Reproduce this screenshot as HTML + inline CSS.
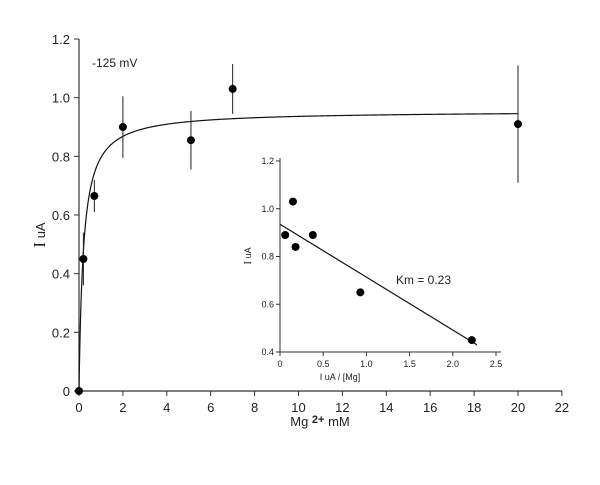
<!DOCTYPE html>
<html><head><meta charset="utf-8"><style>
body{margin:0;background:#fff}
svg text{font-family:"Liberation Sans",sans-serif;fill:#222}
</style></head><body>
<svg width="600" height="480">
<g id="main"></g>
<g id="inset"></g>
</svg>
<script>
const mainX=[0,0.2,0.7,2,5.1,7,20];
const mainY=[0,0.45,0.665,0.9,0.855,1.03,0.91];
const mainErr=[0,0.09,0.055,0.105,0.1,0.085,0.2];
const fitVmax=0.955, fitKm=0.2;
const xTicks=[0,2,4,6,8,10,12,14,16,18,20,22];
const yTicks=[0,0.2,0.4,0.6,0.8,1.0,1.2];
const insX=[0.06,0.15,0.18,0.38,0.93,2.22];
const insY=[0.89,1.03,0.84,0.89,0.65,0.45];
const insLine=[[0,0.935],[2.28,0.43]];
const insXTicks=[0,0.5,1.0,1.5,2.0,2.5];
const insYTicks=[0.4,0.6,0.8,1.0,1.2];
const NS="http://www.w3.org/2000/svg";
function mk(p,t,a,txt){const e=document.createElementNS(NS,t);for(const k in a)e.setAttribute(k,a[k]);if(txt!==undefined)e.textContent=txt;p.appendChild(e);return e;}
const fx=v=>79+v*21.95, fy=v=>391-v*293.3;
const m=document.getElementById('main');
let e;
e=mk(m,'line',{x1:79,y1:39,x2:79,y2:391,stroke:'#333','stroke-width':1.2});


e=mk(m,'line',{x1:79,y1:391,x2:562,y2:391,stroke:'#333','stroke-width':1.2});


xTicks.forEach(t=>{const x=fx(t);mk(m,'line',{x1:x,y1:391,x2:x,y2:396,stroke:'#333'});
e=mk(m,'text',{x:x,y:412,'font-size':13,'text-anchor':'middle'},String(t));

});
yTicks.forEach(t=>{const y=fy(t);mk(m,'line',{x1:74,y1:y,x2:79,y2:y,stroke:'#333'});
e=mk(m,'text',{x:70,y:y+5,'font-size':13,'text-anchor':'end'},t===0?'0':t.toFixed(1));

});
let d='';for(let i=0;i<=400;i++){const x=20*Math.pow(i/400,2);d+=(i?'L':'M')+fx(x).toFixed(2)+','+fy(fitVmax*x/(fitKm+x)).toFixed(2);}
e=mk(m,'path',{d:d,fill:'none',stroke:'#111','stroke-width':1.2});


mainX.forEach((x,i)=>{if(mainErr[i]>0){e=mk(m,'line',{x1:fx(x),x2:fx(x),y1:fy(mainY[i]-mainErr[i]),y2:fy(mainY[i]+mainErr[i]),stroke:'#222','stroke-width':1});

}
e=mk(m,'circle',{cx:fx(x),cy:fy(mainY[i]),r:4,fill:'#000'});

});
e=mk(m,'text',{x:92,y:67,'font-size':12},'-125 mV');


e=mk(m,'text',{x:0,y:0,'font-size':13,transform:'translate(45,235) rotate(-90)','text-anchor':'middle'});
e.innerHTML='<tspan font-family="Liberation Serif" font-size="17">I</tspan> uA';


e=mk(m,'text',{x:320,y:426,'font-size':13,'text-anchor':'middle'});
e.innerHTML='Mg <tspan font-weight="bold" font-size="11" dy="-3">2+</tspan><tspan dy="3"> mM</tspan>';


const g=document.getElementById('inset');
const ix=v=>280+v*86.4, iy=v=>352-(v-0.4)*238.75;
mk(g,'line',{x1:280,y1:158,x2:280,y2:352,stroke:'#333'});
mk(g,'line',{x1:280,y1:352,x2:501,y2:352,stroke:'#333'});
insXTicks.forEach(t=>{const x=ix(t);mk(g,'line',{x1:x,y1:352,x2:x,y2:356,stroke:'#333'});
e=mk(g,'text',{x:x,y:367,'font-size':9,'text-anchor':'middle'},t===0?'0':t.toFixed(1));

});
insYTicks.forEach(t=>{const y=iy(t);mk(g,'line',{x1:276,y1:y,x2:280,y2:y,stroke:'#333'});
e=mk(g,'text',{x:274,y:y+3,'font-size':9,'text-anchor':'end'},t.toFixed(1));

});
e=mk(g,'line',{x1:ix(insLine[0][0]),y1:iy(insLine[0][1]),x2:ix(insLine[1][0]),y2:iy(insLine[1][1]),stroke:'#111','stroke-width':1.2});


insX.forEach((x,i)=>{e=mk(g,'circle',{cx:ix(x),cy:iy(insY[i]),r:4,fill:'#000'});

});
e=mk(g,'text',{x:396,y:284,'font-size':12},'Km = 0.23');


e=mk(g,'text',{x:340,y:380,'font-size':9,'text-anchor':'middle'},'I uA / [Mg]');


e=mk(g,'text',{x:0,y:0,'font-size':9,transform:'translate(251,256) rotate(-90)','text-anchor':'middle'});
e.innerHTML='<tspan font-family="Liberation Serif" font-size="11">I</tspan> uA';


</script>
</body></html>
